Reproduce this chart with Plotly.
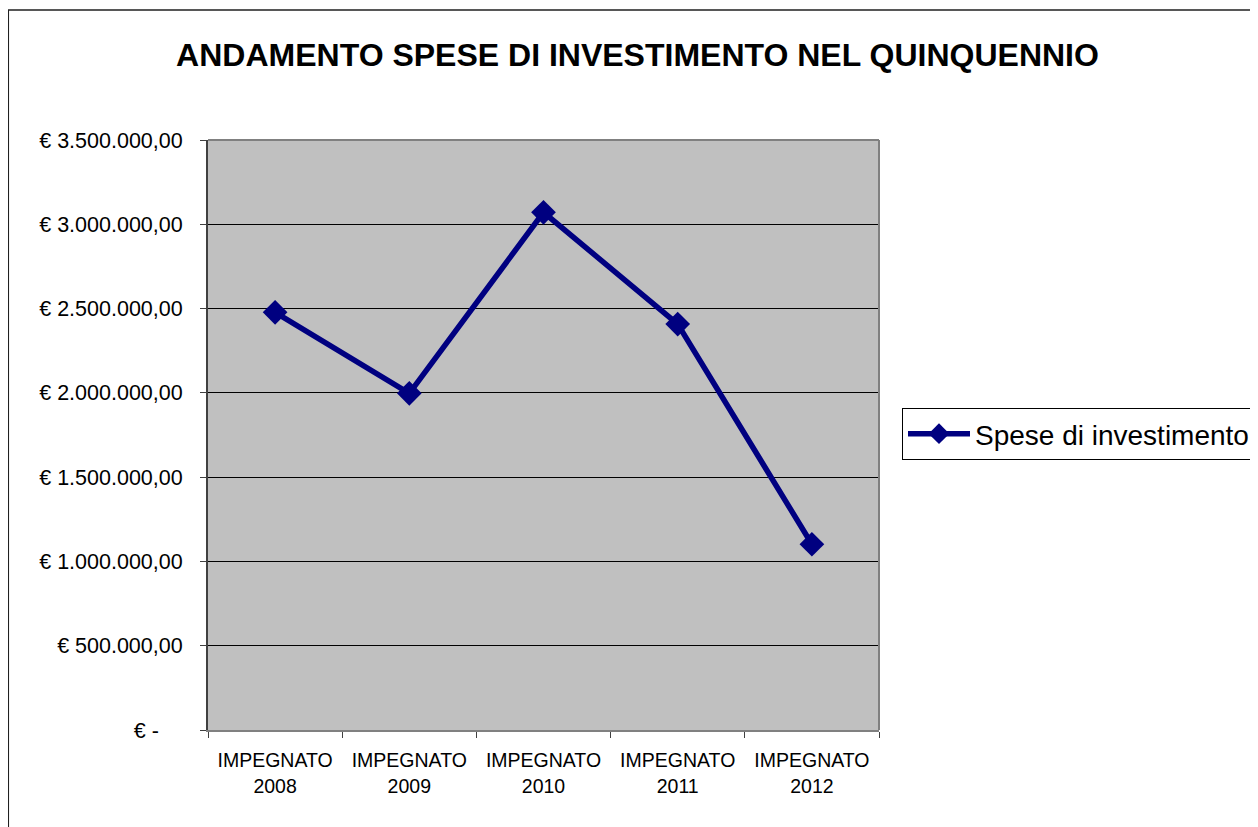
import plotly.graph_objects as go

categories = ["IMPEGNATO<br>2008", "IMPEGNATO<br>2009", "IMPEGNATO<br>2010",
              "IMPEGNATO<br>2011", "IMPEGNATO<br>2012"]
values = [2478000, 1997000, 3071000, 2408000, 1102000]
series_name = "Spese di investimento"
title_text = "ANDAMENTO SPESE DI INVESTIMENTO NEL QUINQUENNIO"
ytick_vals = [0, 500000, 1000000, 1500000, 2000000, 2500000, 3000000, 3500000]
ytick_text = ["€ -\u00a0\u00a0\u00a0\u00a0", "€ 500.000,00", "€ 1.000.000,00", "€ 1.500.000,00",
              "€ 2.000.000,00", "€ 2.500.000,00", "€ 3.000.000,00", "€ 3.500.000,00"]

W, H = 1258, 827
OFF = 8  # page body margin
L, R, T, B = 208, 880, 140, 730  # plot area in screenshot pixels


def px(x):
    return (x - L) / (R - L)


def py(y):
    return (B - y) / (B - T)


FONT = "Liberation Sans, Arial, sans-serif"

fig = go.Figure()
fig.add_trace(go.Scatter(
    x=categories, y=values, name=series_name, mode="lines+markers",
    line=dict(color="#000080", width=5.5),
    marker=dict(symbol="diamond", size=19, color="#000080"),
    showlegend=True,
))

ml = L - OFF
mt = T - OFF
fig.update_layout(
    width=W, height=H,
    margin=dict(l=ml, r=W - ml - (R - L), t=mt, b=H - mt - (B - T), pad=0),
    paper_bgcolor="white",
    plot_bgcolor="#C0C0C0",
    title=dict(text=f"<b>{title_text}</b>", x=((175 + 1100) / 2 - OFF) / W, xanchor="center",
               y=1 - (55 - OFF) / H, yanchor="middle",
               font=dict(family=FONT, size=32, color="black")),
    font=dict(family=FONT, color="black"),
    legend=dict(x=px(902), xanchor="left", y=py(434), yanchor="middle",
                bordercolor="black", borderwidth=1, bgcolor="white",
                font=dict(family=FONT, size=28, color="black"),
                itemwidth=62, tracegroupgap=0),
    showlegend=True,
    xaxis=dict(type="category", range=[-0.5, len(categories) - 0.5],
               tickson="boundaries", ticks="outside", ticklen=6,
               tickcolor="#404040", showgrid=False, showline=True, linecolor="#808080",
               linewidth=2, tickfont=dict(family=FONT, size=19.5, color="black"),
               ticklabelstandoff=12, fixedrange=True),
    yaxis=dict(range=[0, 3500000], tickvals=ytick_vals, ticktext=ytick_text,
               ticks="outside", ticklen=6, tickcolor="#404040",
               showgrid=True, gridcolor="black", gridwidth=1,
               showline=True, linecolor="#404040", linewidth=2,
               zeroline=False,
               tickfont=dict(family=FONT, size=21.5, color="black"),
               ticklabelstandoff=13, fixedrange=True),
    shapes=[
        dict(type="line", xref="paper", yref="paper", x0=0, x1=1, y0=1, y1=1,
             line=dict(color="#808080", width=2)),
        dict(type="line", xref="paper", yref="paper", x0=1, x1=1, y0=0, y1=1,
             line=dict(color="#808080", width=2)),
        dict(type="rect", xref="paper", yref="paper", x0=px(8), x1=px(1275),
             y0=py(850), y1=py(10), line=dict(color="#202020", width=1.5),
             fillcolor="rgba(0,0,0,0)", layer="below"),
    ],
)

fig.write_html("out.html")
